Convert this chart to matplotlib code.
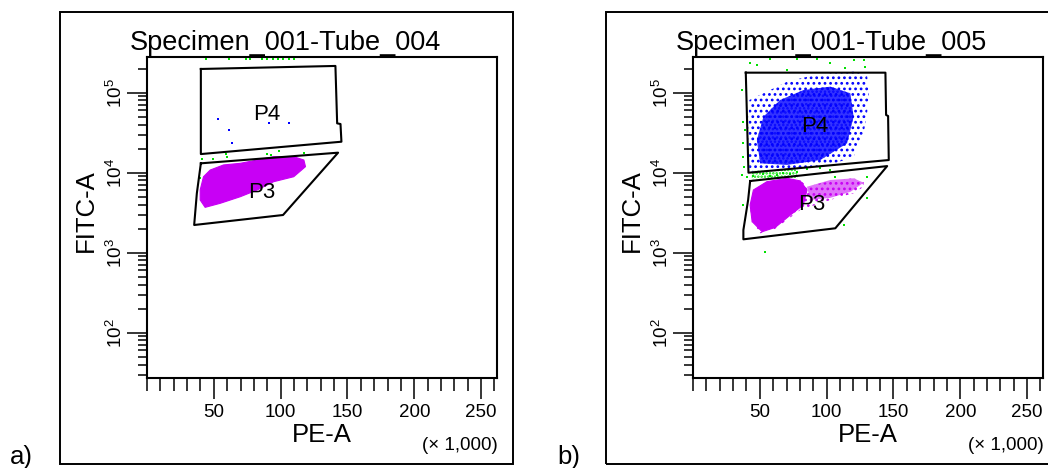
import matplotlib
matplotlib.use("Agg")
import matplotlib.pyplot as plt
from matplotlib.patches import Rectangle
from matplotlib.ticker import FixedLocator, MultipleLocator, LogLocator, NullFormatter

plt.rcParams['font.family'] = ['Liberation Sans', 'DejaVu Sans']
plt.rcParams['hatch.linewidth'] = 1.2

# PE-A in thousands, FITC-A raw
titles = ["Specimen_001-Tube_004", "Specimen_001-Tube_005"]
panel_tags = ["a)", "b)"]
x_ticks = [50, 100, 150, 200, 250]
y_ticks = [1e2, 1e3, 1e4, 1e5]
y_tick_labels = [r"$\mathregular{10^2}$", r"$\mathregular{10^3}$", r"$\mathregular{10^4}$", r"$\mathregular{10^5}$"]

# panel a gates
a_p4_pe = [40.3, 141, 142.3, 144.8, 145.5, 40.3]
a_p4_fitc = [1.98e5, 2.16e5, 4.14e4, 4.06e4, 2.44e4, 1.71e4]
a_p3_pe = [40.3, 143, 101.8, 35.3, 37.3]
a_p3_fitc = [1.31e4, 1.78e4, 2960, 2220, 5530]
a_label_pe = [89.8, 86]
a_label_fitc = [5.27e4, 5620]

# panel a populations
a_pink_pe = [39.8, 43.5, 54.8, 69.8, 82.4, 94.8, 109.8, 118.6, 117.4, 109.8, 94.8, 82.4, 69.8, 57.3, 47.3, 42.3, 39.8]
a_pink_fitc = [4560, 3690, 4145, 5010, 6080, 7720, 8910, 1.19e4, 1.44e4, 1.585e4, 1.585e4, 1.44e4, 1.31e4, 1.25e4, 1.08e4, 8910, 6080]
a_blue_pe = [53.5, 61.7, 63.5, 91.3, 106.5]
a_blue_fitc = [4.69e4, 3.42e4, 2.33e4, 4.14e4, 4.14e4]
a_green_pe = [44, 61.5, 74.3, 77.3, 86, 90, 94, 98, 102, 106, 110,
              41.5, 49.7, 59, 59.8, 89.8, 92.8, 98.5, 117.2, 39.8]
a_green_fitc = [2.62e5] * 11 + [1.47e4, 1.47e4, 1.71e4, 1.58e4, 1.71e4, 1.66e4, 1.88e4, 1.78e4, 8510]

# panel b gates
b_p4_pe = [39.5, 144, 144.5, 146, 146.5, 41.5]
b_p4_fitc = [1.78e5, 1.78e5, 5.27e4, 5.11e4, 1.44e4, 1.0e4]
b_p3_pe = [42.75, 145.3, 106.5, 37.7, 37.7, 41.25]
b_p3_fitc = [7870, 1.21e4, 2020, 1470, 1920, 4560]
b_label_pe = [90.75, 89]
b_label_fitc = [3.76e4, 3950]

# panel b populations
b_blue_out_pe = [42.2, 57.75, 70.3, 85.3, 102.75, 120.2, 130.3, 131.5, 130.3, 127.7, 120.2, 102.75, 82.7, 57.75, 42.2, 41.5, 41.5]
b_blue_out_fitc = [8.11e4, 1.08e5, 1.37e5, 1.58e5, 1.75e5, 1.83e5, 1.66e5, 9.83e4, 5.53e4, 3.11e4, 1.585e4, 1.25e4, 1.135e4, 1.08e4, 1.03e4, 1.92e4, 4.14e4]
b_blue_in_pe = [52.7, 65.25, 82.7, 102.75, 117.75, 120.2, 115.3, 95.25, 70.3, 50.25, 47.8]
b_blue_in_fitc = [5.01e4, 8.11e4, 1.08e5, 1.19e5, 9.83e4, 5.01e4, 2.33e4, 1.44e4, 1.25e4, 1.31e4, 2.56e4]
b_pink_out_pe = [45.2, 55.3, 70.3, 80.25, 85.3, 95.25, 107.8, 120.2, 127.7, 127.7, 120.2, 110.25, 95.25, 80.25, 70.3, 60.2, 50.25, 44, 42.75]
b_pink_out_fitc = [6080, 7720, 8510, 8110, 6680, 7370, 8110, 8510, 7720, 6680, 5530, 5010, 4145, 3420, 2560, 1920, 1750, 2330, 3760]
b_pink_wing_pe = [85.3, 102.75, 120.2, 127.7, 117.75, 102.75, 87.75]
b_pink_wing_fitc = [6680, 8110, 8510, 7500, 5760, 4850, 4570]
b_pink_in_pe = [45.2, 55.3, 70.3, 80.25, 85.3, 82.5, 72.75, 61.5, 51.75, 44.25, 42.75]
b_pink_in_fitc = [6080, 7720, 8510, 7900, 6080, 3950, 2950, 2070, 1830, 2450, 3950]
b_green_band_pe = [44, 78, 78, 44]
b_green_band_fitc = [1.05e4, 1.1e4, 8510, 8270]
b_green_pe = [36.5, 37.7, 39, 37.7, 37.3, 38.25, 36.5, 40.3, 45.2, 52.7, 57.75, 62.8, 67.7, 72.75, 77.8,
              85.3, 95.25, 102.75, 106.5, 130.3, 130.3, 112.7, 54, 37.7, 39,
              42.75, 47.8, 57.75, 70.3, 77.8, 92.8, 102.75, 114, 120.2, 127.7, 129]
b_green_fitc = [1.08e5, 4.34e4, 3.42e4, 2.33e4, 1.585e4, 1.19e4, 9360, 8910, 9100, 9640, 9100, 9360, 9830, 9640, 1.03e4,
                1.10e4, 1.135e4, 1.08e4, 8910, 8910, 4790, 2220, 1030, 3950, 2560,
                2.33e5, 2.22e5, 2.62e5, 1.92e5, 2.62e5, 2.62e5, 2.33e5, 2.02e5, 2.56e5, 2.56e5, 2.11e5]

MAGENTA = '#c800f5'
BLUE = '#0000ff'
GREEN = '#00e000'

fig = plt.figure(figsize=(10.48, 4.68), dpi=100)

# axes placement (pixels -> figure fraction)
ax_a = fig.add_axes([147 / 1048, 90 / 468, 350.3 / 1048, 321.5 / 468])
ax_b = fig.add_axes([693 / 1048, 90 / 468, 350.3 / 1048, 321.5 / 468])
axes = [ax_a, ax_b]

# panel a
ax_a.fill(a_pink_pe, a_pink_fitc, color=MAGENTA, lw=0.8, zorder=2)
ax_a.scatter(a_blue_pe, a_blue_fitc, s=3, marker='s', color=BLUE, lw=0, zorder=3)
ax_a.scatter(a_green_pe, a_green_fitc, s=3, marker='s', color=GREEN, lw=0, zorder=3, clip_on=False)
ax_a.plot(a_p4_pe + a_p4_pe[:1], a_p4_fitc + a_p4_fitc[:1], color='black', lw=1.5, zorder=4)
ax_a.plot(a_p3_pe + a_p3_pe[:1], a_p3_fitc + a_p3_fitc[:1], color='black', lw=1.5, zorder=4)
for name, xx, yy in zip(["P4", "P3"], a_label_pe, a_label_fitc):
    ax_a.text(xx, yy, name, fontsize=16, ha='center', va='center', zorder=5)

# panel b
ax_b.fill(b_green_band_pe, b_green_band_fitc, facecolor='none', edgecolor=GREEN, hatch='.....', lw=0, zorder=1)
ax_b.fill(b_blue_out_pe, b_blue_out_fitc, facecolor='none', edgecolor=BLUE, hatch='...', lw=0, zorder=2)
ax_b.fill(b_blue_in_pe, b_blue_in_fitc, facecolor=BLUE, alpha=0.8, edgecolor=BLUE, hatch='....', lw=0, zorder=2)
ax_b.fill(b_pink_out_pe, b_pink_out_fitc, facecolor='none', edgecolor=MAGENTA, hatch='...', lw=0, zorder=2)
ax_b.fill(b_pink_wing_pe, b_pink_wing_fitc, color=MAGENTA, alpha=0.55, lw=0, zorder=2)
ax_b.fill(b_pink_in_pe, b_pink_in_fitc, color=MAGENTA, lw=0.8, zorder=2)
ax_b.scatter(b_green_pe, b_green_fitc, s=3, marker='s', color=GREEN, lw=0, zorder=3, clip_on=False)
ax_b.plot(b_p4_pe + b_p4_pe[:1], b_p4_fitc + b_p4_fitc[:1], color='black', lw=1.5, zorder=4)
ax_b.plot(b_p3_pe + b_p3_pe[:1], b_p3_fitc + b_p3_fitc[:1], color='black', lw=1.5, zorder=4)
for name, xx, yy in zip(["P4", "P3"], b_label_pe, b_label_fitc):
    ax_b.text(xx, yy, name, fontsize=16, ha='center', va='center', zorder=5)

for ax in axes:
    ax.set_yscale('log')
    ax.set_xlim(0, 262.144)
    ax.set_ylim(10 ** 1.434, 10 ** 5.4525)
    ax.xaxis.set_major_locator(FixedLocator(x_ticks))
    ax.xaxis.set_minor_locator(MultipleLocator(10))
    ax.set_xticklabels([str(t) for t in x_ticks])
    ax.yaxis.set_major_locator(FixedLocator(y_ticks))
    ax.yaxis.set_minor_locator(LogLocator(base=10, subs=range(2, 10), numticks=20))
    ax.yaxis.set_minor_formatter(NullFormatter())
    ax.set_yticklabels(y_tick_labels)
    ax.tick_params(axis='x', which='major', length=15, width=1.1, labelsize=13.5, pad=4)
    ax.tick_params(axis='x', which='minor', length=9.4, width=1.1)
    ax.tick_params(axis='y', which='major', length=14.4, width=1.1, labelsize=13.5, pad=0.5, labelrotation=90)
    ax.tick_params(axis='y', which='minor', length=6.8, width=1.1)
    for tl in ax.get_yticklabels():
        tl.set_va('center')
    for sp in ax.spines.values():
        sp.set_linewidth(1.5)
    ax.text(0.5, -0.198, "PE-A", transform=ax.transAxes, fontsize=18.5, ha='center', va='baseline')
    ax.text(-0.174, 0.5217, "FITC-A", transform=ax.transAxes, fontsize=18.5, rotation=90, ha='center', va='center')
    ax.text(1.0, -0.2236, "(\u00d7 1,000)", transform=ax.transAxes, fontsize=13.5, ha='right', va='baseline')

# outer frames, titles, panel tags
for x0, cx, tx, title, tag in zip([60, 606], [285, 831], [10, 557], titles, panel_tags):
    fig.patches.append(Rectangle((x0 / 1048, 4 / 468), 453 / 1048, 452 / 468, transform=fig.transFigure,
                                 fill=False, edgecolor='black', lw=1.4))
    fig.text(cx / 1048, (468 - 50.5) / 468, title, fontsize=19.5, ha='center', va='baseline', zorder=6)
    fig.text(tx / 1048, (468 - 464) / 468, tag, fontsize=18.5, ha='left', va='baseline')

fig.savefig("out.png", dpi=100)
